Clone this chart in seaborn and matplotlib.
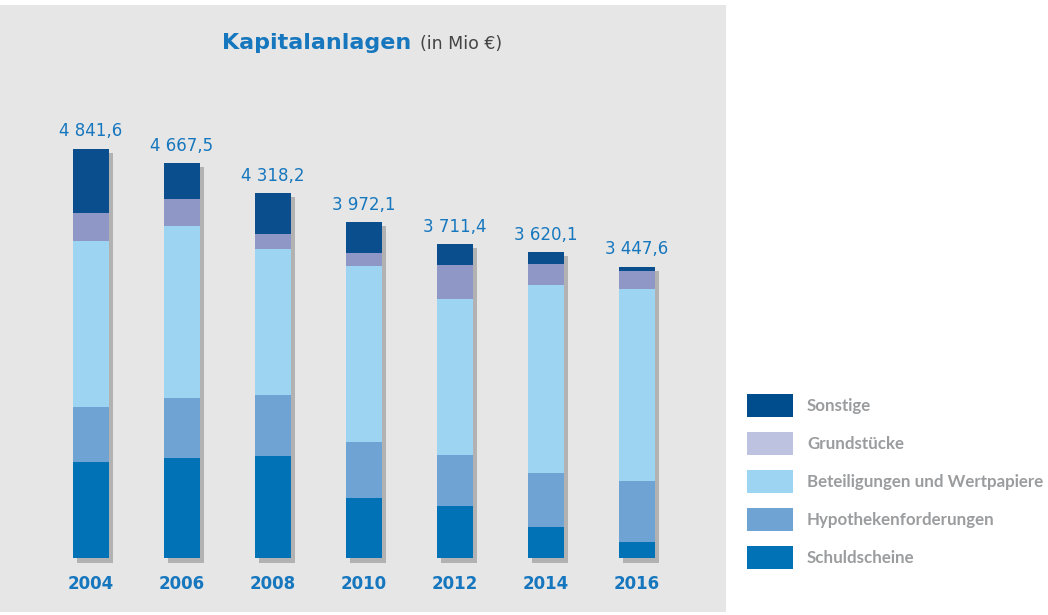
import matplotlib
matplotlib.use("Agg")
import matplotlib.pyplot as plt
import matplotlib.patheffects as pe
from matplotlib.patches import Patch
import numpy as np
import pandas as pd
import seaborn as sns

# Kapitalanlagen in Mio EUR
years = ['2004', '2006', '2008', '2010', '2012', '2014', '2016']
totals = [4841.6, 4667.5, 4318.2, 3972.1, 3711.4, 3620.1, 3447.6]
total_labels = ['4 841,6', '4 667,5', '4 318,2', '3 972,1', '3 711,4', '3 620,1', '3 447,6']

schuldscheine = [1134, 1185, 1216, 709, 621, 366, 189]
hypotheken = [661, 705, 720, 669, 599, 638, 728]
beteiligungen = [1960, 2031, 1724, 2081, 1850, 2223, 2268]
grundstuecke = [331, 327, 169, 154, 393, 248, 216]
sonstige = [756, 420, 489, 359, 248, 145, 47]

series = ['Schuldscheine', 'Hypothekenforderungen', 'Beteiligungen und Wertpapiere', 'Grundstücke', 'Sonstige']
bar_colors = ['#0072b5', '#6fa3d3', '#9dd4f1', '#8e97c5', '#0b4e8e']
legend_colors = ['#0072b5', '#6fa3d3', '#9dd4f1', '#bcc2e0', '#004d8d']

df = pd.DataFrame({'year': years, 'total': totals,
                   'Schuldscheine': schuldscheine,
                   'Hypothekenforderungen': hypotheken,
                   'Beteiligungen und Wertpapiere': beteiligungen,
                   'Grundstücke': grundstuecke,
                   'Sonstige': sonstige})

sns.set_theme(style='white')
plt.rcParams['font.family'] = ['DejaVu Sans']

fig = plt.figure(figsize=(10.48, 6.15), dpi=100)
ax = fig.add_axes([0, 3 / 615, 726 / 1048, 607 / 615])
ax.set_facecolor('#e6e6e6')

bw = 0.4
# soft shadow behind the full stack
sns.barplot(data=df, x='year', y='total', color='#e6e6e6', saturation=1, width=bw,
            errorbar=None, linewidth=0, ax=ax,
            path_effects=[pe.withSimplePatchShadow(offset=(3, -3), shadow_rgbFace='#808080', alpha=0.5)])

bottom = np.zeros(len(years))
for name, col in zip(series, bar_colors):
    sns.barplot(data=df, x='year', y=name, color=col, saturation=1, width=bw,
                errorbar=None, bottom=bottom, linewidth=0, ax=ax)
    bottom = bottom + df[name].to_numpy()

ax.set_xlim(-1.0, 6.98)
ax.set_ylim(-632, 6537)
for s in ax.spines.values():
    s.set_visible(False)
ax.set_xticks([])
ax.set_yticks([])
ax.set_xlabel('')
ax.set_ylabel('')

for i, (t, lab) in enumerate(zip(totals, total_labels)):
    ax.annotate(lab, xy=(i, t), xytext=(0, 6), textcoords='offset points',
                ha='center', va='bottom', fontsize=12, color='#1677be')
    ax.text(i, -300, years[i], ha='center', va='center', fontsize=12,
            fontweight='bold', color='#1677be')

t1 = fig.text(222 / 1048, 1 - 49 / 615, 'Kapitalanlagen', fontsize=16, fontweight='bold',
              color='#1677be', ha='left', va='baseline')
ax.annotate('(in Mio €)', xy=(1, 0), xycoords=t1, xytext=(6, 0), textcoords='offset points',
            fontsize=12.5, color='#444444', ha='left', va='bottom')

handles = [Patch(facecolor=c, edgecolor='none') for c in legend_colors[::-1]]
fs = 12.2
fpx = fs * 100 / 72
fig.legend(handles, series[::-1], loc='upper left',
           bbox_to_anchor=(747 / 1048, 1 - 393.5 / 615), frameon=False,
           labelcolor='#9a9c9e', borderpad=0, borderaxespad=0,
           handlelength=46 / fpx, handleheight=29 / fpx, handletextpad=14 / fpx,
           labelspacing=15 / fpx, prop={'family': 'Lato', 'weight': 'bold', 'size': fs})

fig.savefig('out.png', dpi=100, facecolor='white')
